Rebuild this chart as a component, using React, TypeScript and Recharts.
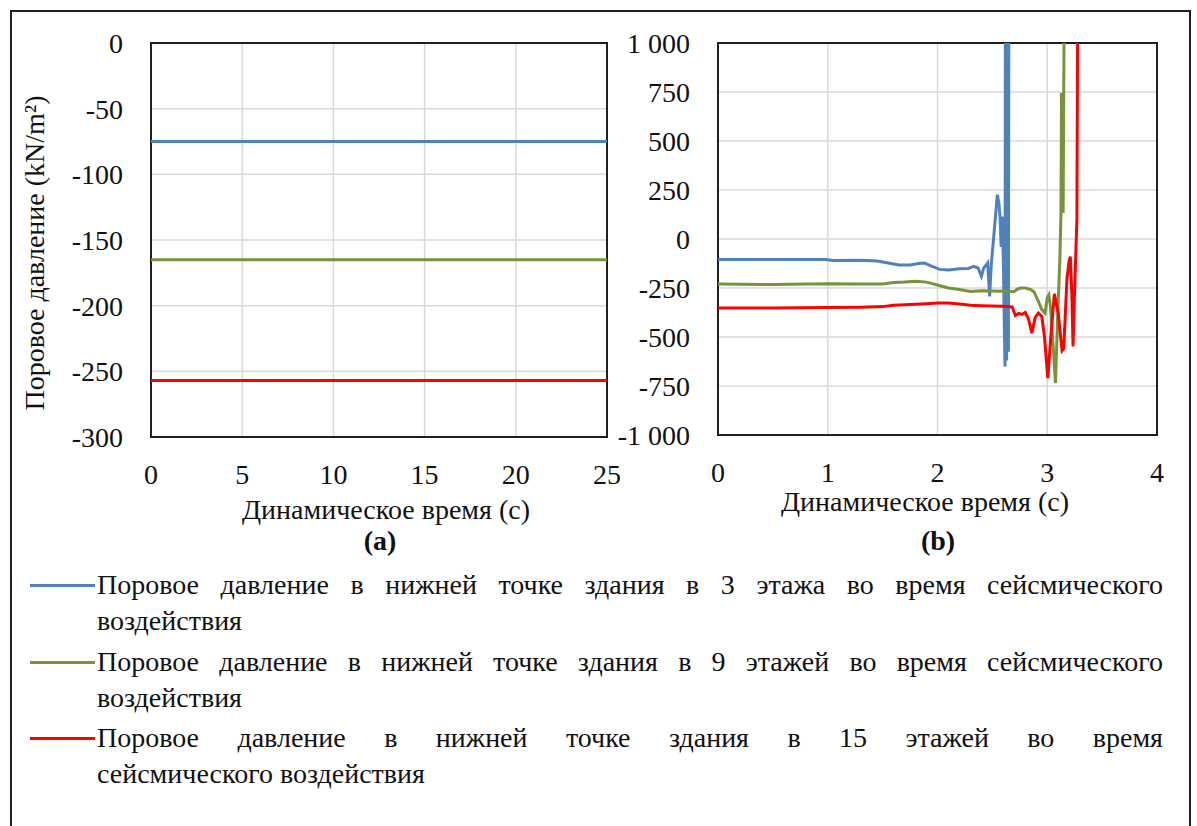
import { CartesianGrid, Line, LineChart, ReferenceArea, XAxis, YAxis } from "recharts";

const FONT = '"Liberation Serif", "Times New Roman", serif';
const INK = "#111";
const GRID = "#d9d9d9";
const FRAME = "#1f1f1f";

/** Excel-ish series colours: 3, 9 and 15 storeys */
const COLORS = ["#4f81bd", "#77933c", "#ff0000"];

const LEGEND_LINES = [
  ["Поровое давление в нижней точке здания в 3 этажа  во время сейсмического", "воздействия"],
  ["Поровое давление в нижней точке здания в 9 этажей во время сейсмического", "воздействия"],
  ["Поровое давление в нижней точке здания в 15 этажей во время", "сейсмического воздействия"],
];

// panel (a): long run, pressure stays flat
const A_TIME = [0, 25];
const A_3_FLOORS = [-75, -75];
const A_9_FLOORS = [-165, -165];
const A_15_FLOORS = [-257, -257];
const A_X_TICKS = [0, 5, 10, 15, 20, 25];
const A_Y_TICKS = [0, -50, -100, -150, -200, -250, -300];

// panel (b): first 4 s, all three blow up past 1 000
const B_3_T = [0, 0.5, 0.98, 1.05, 1.3, 1.45, 1.55, 1.65, 1.75, 1.83, 1.88, 1.95, 2.02, 2.1, 2.2, 2.28, 2.33, 2.37, 2.4, 2.42, 2.44, 2.457, 2.475, 2.49, 2.52, 2.545, 2.56, 2.57, 2.58, 2.59, 2.6, 2.615, 2.622, 2.63, 2.638, 2.646, 2.654, 2.665];
const B_3_P = [-105, -105, -105, -110, -108, -112, -122, -133, -133, -125, -122, -140, -155, -158, -152, -150, -140, -148, -190, -150, -135, -122, -293, -130, 60, 226, 180, 110, -40, 115, -120, -650, 3000, -620, 3000, -575, 3000, 3000];

const B_9_T = [0, 0.5, 1.0, 1.3, 1.5, 1.6, 1.7, 1.8, 1.9, 2.0, 2.1, 2.2, 2.3, 2.4, 2.5, 2.6, 2.7, 2.73, 2.76, 2.8, 2.85, 2.88, 2.92, 2.95, 2.98, 3.0, 3.015, 3.03, 3.06, 3.075, 3.095, 3.115, 3.125, 3.13, 3.135, 3.14, 3.145, 3.15, 3.175];
const B_9_P = [-230, -232, -228, -230, -230, -222, -220, -216, -220, -235, -250, -258, -268, -264, -265, -266, -268, -255, -250, -250, -258, -270, -320, -360, -378, -300, -285, -350, -600, -735, -400, -100, 133, 745, 133, 745, 133, 745, 3000];

const B_15_T = [0, 0.5, 1.0, 1.3, 1.5, 1.6, 1.7, 1.8, 1.9, 2.0, 2.1, 2.2, 2.3, 2.4, 2.5, 2.6, 2.68, 2.71, 2.74, 2.77, 2.8, 2.83, 2.86, 2.89, 2.92, 2.95, 2.975, 3.005, 3.035, 3.065, 3.1, 3.135, 3.15, 3.18, 3.2, 3.21, 3.225, 3.235, 3.25, 3.27, 3.29];
const B_15_P = [-352, -352, -350, -348, -345, -338, -335, -333, -330, -327, -326, -332, -338, -340, -342, -343, -347, -390, -380, -385, -375, -410, -480, -400, -378, -395, -500, -710, -480, -280, -380, -570, -560, -200, -110, -90, -300, -548, -250, 100, 3000];

const B_X_TICKS = [0, 1, 2, 3, 4];
const B_Y_TICKS = [1000, 750, 500, 250, 0, -250, -500, -750, -1000];

const rowsA = A_TIME.map((t, i) => ({ t, f3: A_3_FLOORS[i], f9: A_9_FLOORS[i], f15: A_15_FLOORS[i] }));
const zip = (ts: number[], ps: number[]) => ts.map((t, i) => ({ t, p: ps[i] }));
const seriesB = [zip(B_3_T, B_3_P), zip(B_9_T, B_9_P), zip(B_15_T, B_15_P)];

const fmtThousands = (v: number) => {
  const s = Math.abs(v).toString().replace(/\B(?=(\d{3})+(?!\d))/g, " ");
  return v < 0 ? `-${s}` : s;
};

const tick = { fontSize: 28, fill: INK };

function Title({ x, y, text, bold, w = 420 }: { x: number; y: number; text: string; bold?: boolean; w?: number }) {
  return (
    <div
      style={{
        position: "absolute",
        left: x - w / 2,
        top: y - 16,
        width: w,
        lineHeight: "32px",
        textAlign: "center",
        fontSize: 28,
        fontWeight: bold ? 700 : 400,
        color: INK,
        whiteSpace: "nowrap",
      }}
    >
      {text}
    </div>
  );
}

export default function App() {
  return (
    <div className="fig" style={{ position: "absolute", left: 0, top: 0, width: 1197, height: 826, background: "#fff" }}>
      <style>{`.fig, .fig * { font-family: ${FONT} !important; }`}</style>

      {/* outer frame */}
      <div
        style={{
          position: "absolute",
          left: 10,
          top: 10,
          width: 1181,
          height: 816,
          border: `2px solid ${FRAME}`,
          borderBottom: "none",
          boxSizing: "border-box",
        }}
      />

      {/* (a) */}
      <div style={{ position: "absolute", left: 0, top: 0 }}>
        <LineChart width={620} height={560} data={rowsA} margin={{ top: 43, right: 13, bottom: 0, left: 0 }}>
          <CartesianGrid stroke={GRID} strokeWidth={1.5} />
          <XAxis
            dataKey="t"
            type="number"
            domain={[0, 25]}
            ticks={A_X_TICKS}
            interval={0}
            height={123}
            tickSize={0}
            tickMargin={27}
            axisLine={false}
            tick={tick}
          />
          <YAxis
            type="number"
            domain={[-300, 0]}
            ticks={A_Y_TICKS}
            interval={0}
            width={151}
            tickSize={0}
            tickMargin={28}
            axisLine={false}
            tick={tick}
          />
          <Line dataKey="f3" stroke={COLORS[0]} strokeWidth={3} dot={false} isAnimationActive={false} />
          <Line dataKey="f9" stroke={COLORS[1]} strokeWidth={3} dot={false} isAnimationActive={false} />
          <Line dataKey="f15" stroke={COLORS[2]} strokeWidth={3} dot={false} isAnimationActive={false} />
          <ReferenceArea x1={0} x2={25} y1={-300} y2={0} fill="none" stroke={FRAME} strokeWidth={2} ifOverflow="visible" />
        </LineChart>
      </div>

      {/* (b) */}
      <div style={{ position: "absolute", left: 560, top: 0 }}>
        <LineChart width={637} height={560} margin={{ top: 43, right: 40, bottom: 0, left: 0 }}>
          <CartesianGrid stroke={GRID} strokeWidth={1.5} />
          <XAxis
            dataKey="t"
            type="number"
            domain={[0, 4]}
            ticks={B_X_TICKS}
            interval={0}
            height={125}
            tickSize={0}
            tickMargin={27}
            axisLine={false}
            tick={tick}
          />
          <YAxis
            type="number"
            domain={[-1000, 1000]}
            ticks={B_Y_TICKS}
            interval={0}
            allowDataOverflow
            width={158}
            tickSize={0}
            tickMargin={28}
            axisLine={false}
            tick={tick}
            tickFormatter={fmtThousands}
          />
          {seriesB.map((d, i) => (
            <Line
              key={i}
              data={d}
              dataKey="p"
              stroke={COLORS[i]}
              strokeWidth={3}
              dot={false}
              isAnimationActive={false}
            />
          ))}
          <ReferenceArea x1={0} x2={4} y1={-1000} y2={1000} fill="none" stroke={FRAME} strokeWidth={2} ifOverflow="visible" />
        </LineChart>
      </div>

      {/* axis titles */}
      <div
        style={{
          position: "absolute",
          left: 35 - 200,
          top: 253 - 16,
          width: 400,
          lineHeight: "32px",
          textAlign: "center",
          fontSize: 28,
          color: INK,
          whiteSpace: "nowrap",
          transform: "rotate(-90deg)",
        }}
      >
        Поровое давление (kN/m²)
      </div>
      <Title x={386} y={510} text="Динамическое время (с)" />
      <Title x={380} y={541} text="(a)" bold />
      <Title x={925} y={502} text="Динамическое время (с)" />
      <Title x={938} y={541} text="(b)" bold />

      {/* legend */}
      {LEGEND_LINES.map(([first, second], i) => (
        <div key={i} style={{ position: "absolute", left: 30, top: 567 + i * 76.5, width: 1133 }}>
          <div
            style={{
              position: "absolute",
              left: 0,
              top: 17,
              width: 65,
              height: 3,
              background: COLORS[i],
            }}
          />
          <div style={{ marginLeft: 67, fontSize: 28, lineHeight: "36px", color: INK }}>
            <div style={{ textAlign: "justify", textAlignLast: "justify" }}>{first}</div>
            <div>{second}</div>
          </div>
        </div>
      ))}
    </div>
  );
}
